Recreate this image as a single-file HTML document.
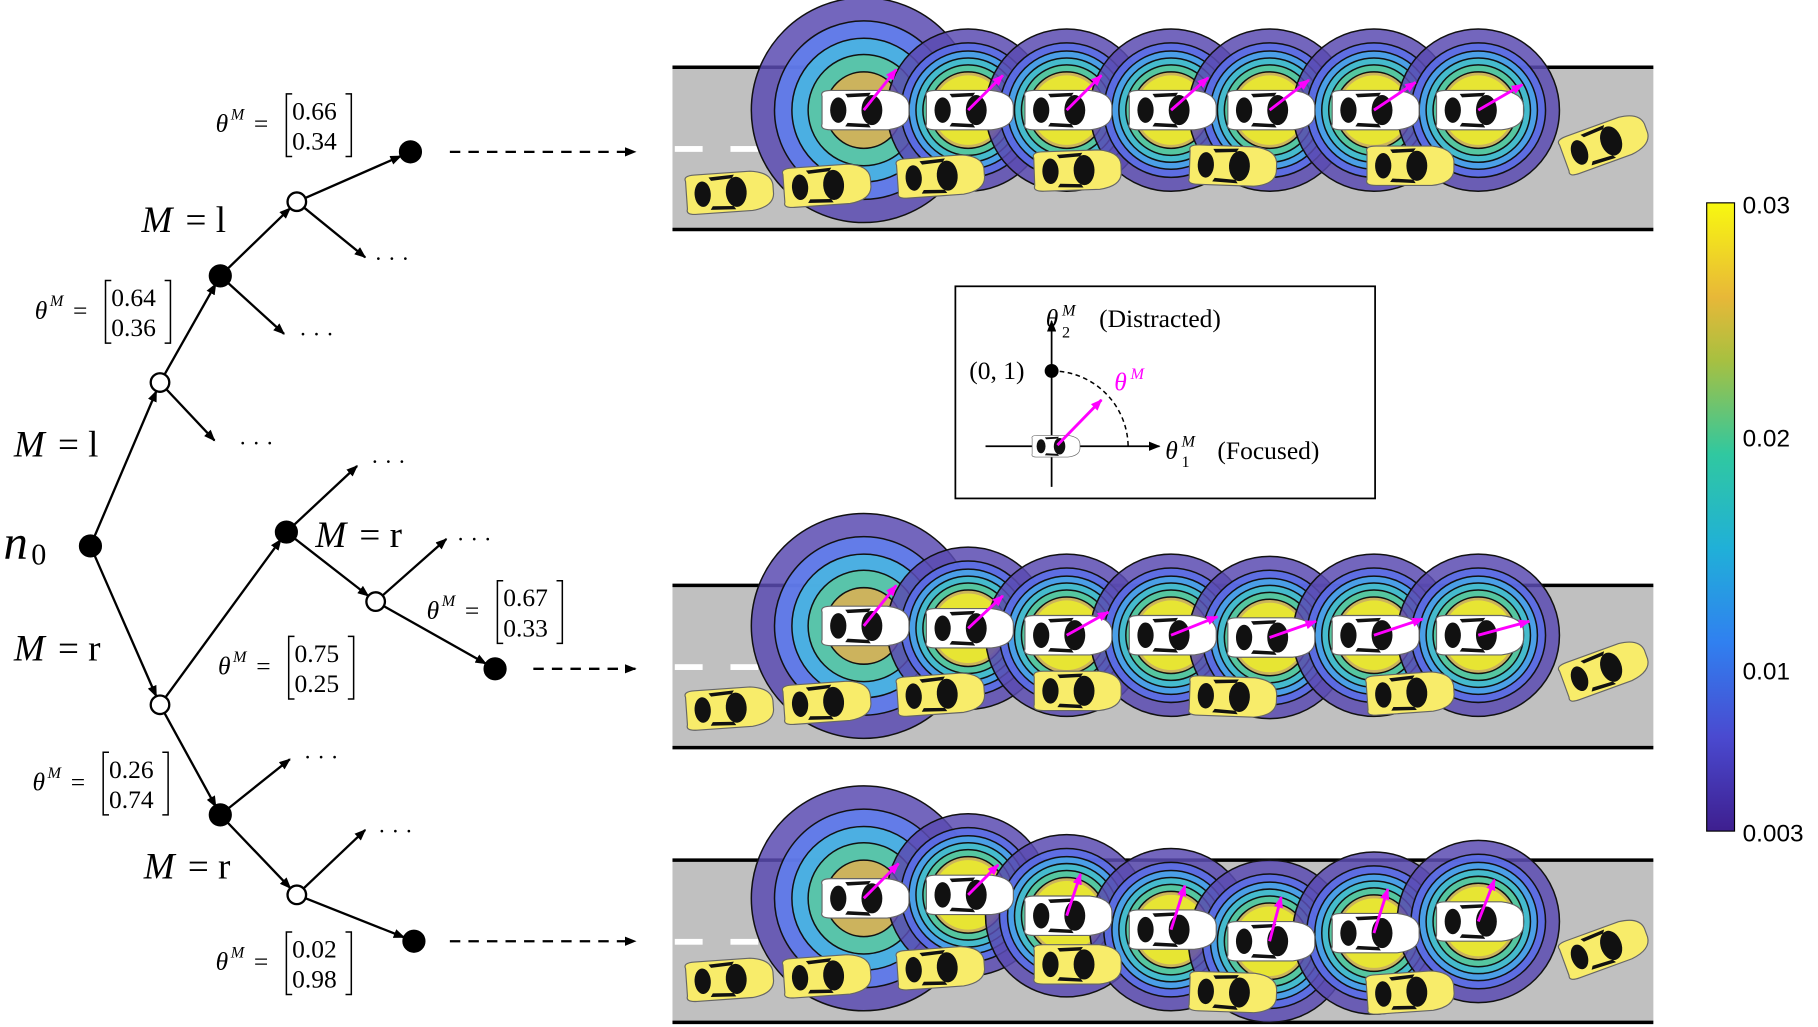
<!DOCTYPE html>
<html><head><meta charset="utf-8"><style>
html,body{margin:0;padding:0;background:#fff;width:1818px;height:1027px;overflow:hidden}
svg{display:block}
text{font-family:"Liberation Serif",serif;fill:#000}
</style></head><body>
<svg id="s" width="1818" height="1027" viewBox="0 0 1568 886" preserveAspectRatio="none" xmlns="http://www.w3.org/2000/svg">
<defs>
<marker id="ah" markerWidth="10" markerHeight="8" refX="9" refY="4" orient="auto" markerUnits="userSpaceOnUse"><path d="M0,0 L10,4 L0,8 z" fill="#000"/></marker>
<marker id="mh" markerWidth="10" markerHeight="8" refX="9" refY="4" orient="auto" markerUnits="userSpaceOnUse"><path d="M0,0 L10,4 L0,8 z" fill="#f0f"/></marker>
<linearGradient id="cb" x1="0" y1="1" x2="0" y2="0">
<stop offset="0" stop-color="#3e1f8f"/><stop offset="0.15" stop-color="#4a4ad0"/><stop offset="0.3" stop-color="#3080f0"/><stop offset="0.45" stop-color="#20b0d8"/><stop offset="0.6" stop-color="#30c8a0"/><stop offset="0.75" stop-color="#a8c040"/><stop offset="0.85" stop-color="#e8b838"/><stop offset="1" stop-color="#f8f810"/>
</linearGradient>
</defs>
<g id="roads"></g>
<g id="tree" stroke="#000" stroke-width="2" fill="none"></g>
<g id="lbl"></g>
<rect x="824" y="247" width="362" height="183" fill="#fff" stroke="#000" stroke-width="1.5"/>
<line x1="907" y1="420" x2="907" y2="277" stroke="#000" stroke-width="1.5" marker-end="url(#ah)"/>
<line x1="850" y1="385" x2="1000" y2="385" stroke="#000" stroke-width="1.5" marker-end="url(#ah)"/>
<path d="M907,320 A66,66 0 0 1 973,385" stroke="#000" stroke-dasharray="4,3" fill="none" stroke-width="1.3"/>
<circle cx="907" cy="320" r="6" fill="#000"/>
<g id="icar"></g>
<line x1="912" y1="384" x2="950" y2="345" stroke="#f0f" stroke-width="2.5" marker-end="url(#mh)"/>
<text x="902" y="282" font-size="22" font-style="italic">θ</text><text x="916" y="272" font-size="14" font-style="italic">M</text><text x="916" y="291" font-size="14">2</text>
<text x="948" y="282" font-size="22">(Distracted)</text>
<text x="836" y="327" font-size="22">(0, 1)</text>
<text x="961" y="337" font-size="22" font-style="italic" style="fill:#f0f">θ</text><text x="975" y="327" font-size="14" font-style="italic" style="fill:#f0f">M</text>
<text x="1005" y="396" font-size="22" font-style="italic">θ</text><text x="1019" y="385" font-size="14" font-style="italic">M</text><text x="1019" y="403" font-size="14">1</text>
<text x="1050" y="396" font-size="22">(Focused)</text>
<rect x="1472" y="175" width="24" height="542" fill="url(#cb)" stroke="#000" stroke-width="1"/>
<text x="1503" y="184" font-size="21" style="font-family:'Liberation Sans'">0.03</text>
<text x="1503" y="385" font-size="21" style="font-family:'Liberation Sans'">0.02</text>
<text x="1503" y="586" font-size="21" style="font-family:'Liberation Sans'">0.01</text>
<text x="1503" y="726" font-size="21" style="font-family:'Liberation Sans'">0.003</text>
</svg>
<script>
var NS="http://www.w3.org/2000/svg";
function el(p,t,a,txt){var e=document.createElementNS(NS,t);for(var k in a)e.setAttribute(k,a[k]);if(txt!=null)e.textContent=txt;p.appendChild(e);return e;}
var R=document.getElementById('roads');
function car(p,x,y,col,rot,sc){
 var g=el(p,'g',{transform:'translate('+x+','+y+') rotate('+(rot||0)+') scale('+(sc||1)+')'});
 el(g,'path',{d:'M-36,-12 Q-38,-17 -28,-17 L20,-17 Q38,-15 39,-4 L39,4 Q38,15 20,17 L-28,17 Q-38,17 -36,12 Z',fill:col,stroke:'#666','stroke-width':1});
 el(g,'ellipse',{cx:-22,cy:0,rx:7,ry:11,fill:'#111'});
 el(g,'ellipse',{cx:7,cy:0,rx:9,ry:13,fill:'#111'});
 el(g,'path',{d:'M-16,-14 L6,-15 L4,-12 L-14,-11 Z',fill:'#111'});
 el(g,'path',{d:'M-16,14 L6,15 L4,12 L-14,11 Z',fill:'#111'});
}
function rings(p,cx,cy,big){
 var rs=big?[97,77,62,48,33]:[70,58,51,45,39,33];
 var cs=big?['#5b4bb2','#6080f0','#48b8e0','#5cc8a0','#e0b050']:['#5b4bb2','#5a70ea','#48a8e8','#44c0c8','#58c898','#e0b050'];
 for(var i=0;i<rs.length;i++) el(p,'circle',{cx:cx,cy:cy,r:rs[i],fill:cs[i],'fill-opacity':0.85,stroke:'#111','stroke-width':1.3});
 if(!big) el(p,'circle',{cx:cx,cy:cy,r:30,fill:'#e8e830','fill-opacity':0.95});
}
function road(y0,wc,yc,arrows){
 el(R,'rect',{x:580,y:y0,width:846,height:140,fill:'#c0c0c0'});
 el(R,'line',{x1:580,y1:y0,x2:1426,y2:y0,stroke:'#000','stroke-width':3});
 el(R,'line',{x1:580,y1:y0+140,x2:1426,y2:y0+140,stroke:'#000','stroke-width':3});
 el(R,'rect',{x:582,y:y0+68,width:24,height:5,fill:'#fff'});
 el(R,'rect',{x:630,y:y0+68,width:24,height:5,fill:'#fff'});
 var xs=[745,835,920,1010,1095,1185,1275];
 for(var i=0;i<7;i++) rings(R,xs[i],wc[i],i==0);
 for(var i=0;i<7;i++){car(R,xs[i],wc[i],'#fff',0);}
 for(var i=0;i<7;i++){var a=arrows[i];el(R,'line',{x1:xs[i],y1:wc[i],x2:xs[i]+a[0],y2:wc[i]+a[1],stroke:'#f0f','stroke-width':2.5,'marker-end':'url(#mh)'});}
 for(var j=0;j<yc.length;j++){car(R,yc[j][0],yc[j][1],'#f8ec6a',yc[j][2]);}
}
road(58,[95,95,95,95,95,95,95],[[628,166,-4],[712,160,-4],[810,152,-4],[928,147,-2],[1062,143,2],[1215,143,0],[1383,124,-20]],[[28,-35],[30,-30],[30,-30],[32,-28],[34,-26],[36,-24],[38,-22]]);
road(505,[540,542,548,548,550,548,548],[[628,611,-4],[712,606,-4],[810,599,-4],[928,596,0],[1062,601,2],[1215,598,-4],[1383,578,-20]],[[28,-35],[30,-28],[36,-20],[40,-16],[40,-14],[42,-14],[44,-12]]);
road(742,[775,772,790,802,812,805,795],[[628,845,-4],[712,842,-4],[810,835,-4],[928,832,0],[1062,856,2],[1215,856,-4],[1383,818,-20]],[[30,-30],[26,-26],[12,-36],[12,-38],[10,-38],[12,-38],[14,-36]]);
car(document.getElementById('icar'),910,385,'#fff',0,0.55);
var T=document.getElementById('tree');
function arr(x1,y1,x2,y2,r){var dx=x2-x1,dy=y2-y1,L=Math.hypot(dx,dy);var e=(r||0);el(T,'line',{x1:x1,y1:y1,x2:x2-dx/L*e,y2:y2-dy/L*e,'marker-end':'url(#ah)'});}
var E=[[78,471,138,330,8],[138,330,190,238,8],[190,238,256,174,8],[256,174,354,131,9],[138,330,185,380,0],[190,238,245,288,0],[256,174,315,222,0],
[78,471,138,608,8],[138,608,247,459,8],[247,459,324,519,8],[324,519,427,577,9],[247,459,308,402,0],[324,519,385,465,0],[138,608,190,703,8],[190,703,250,655,0],[190,703,256,772,8],[256,772,315,716,0],[256,772,357,812,9]];
E.forEach(function(e){arr(e[0],e[1],e[2],e[3],e[4]);});
[[78,471,1],[138,330,0],[190,238,1],[256,174,0],[354,131,1],[138,608,0],[247,459,1],[324,519,0],[427,577,1],[190,703,1],[256,772,0],[357,812,1]].forEach(function(n){el(T,'circle',{cx:n[0],cy:n[1],r:n[2]?9:8,fill:n[2]?'#000':'#fff','stroke-width':2});});
[[388,131],[460,577],[388,812]].forEach(function(d){el(T,'line',{x1:d[0],y1:d[1],x2:548,y2:d[1],'stroke-dasharray':'9,7','marker-end':'url(#ah)'});});
var L=document.getElementById('lbl');
function t(x,y,s,fs,it){el(L,'text',{x:x,y:y,'font-size':fs,'font-style':it?'italic':'normal'},s);}
[[323,230],[258,295],[206,389],[320,405],[394,472],[262,660],[326,724]].forEach(function(p){t(p[0],p[1],'· · ·',20);});
t(3,482,'n',42,1);t(27,487,'0',26);
function M(x,y,s){t(x,y,'M',32,1);t(x+38,y,'= '+s,32);}
M(122,200,'l');M(12,394,'l');M(12,570,'r');M(272,472,'r');M(124,758,'r');
function th(x,y,a,b){t(x,y+7,'θ',22,1);t(x+13,y-4,'M',14,1);t(x+33,y+7,'=',22);
 var bx=x+60;el(L,'path',{d:'M'+(bx+6)+','+(y-26)+' h-5 v54 h5',fill:'none',stroke:'#000','stroke-width':1.3});
 el(L,'path',{d:'M'+(bx+52)+','+(y-26)+' h5 v54 h-5',fill:'none',stroke:'#000','stroke-width':1.3});
 t(bx+6,y-4,a,22);t(bx+6,y+22,b,22);}
th(186,107,'0.66','0.34');th(30,268,'0.64','0.36');th(188,575,'0.75','0.25');th(368,527,'0.67','0.33');th(28,675,'0.26','0.74');th(186,830,'0.02','0.98');
</script>
</body></html>
